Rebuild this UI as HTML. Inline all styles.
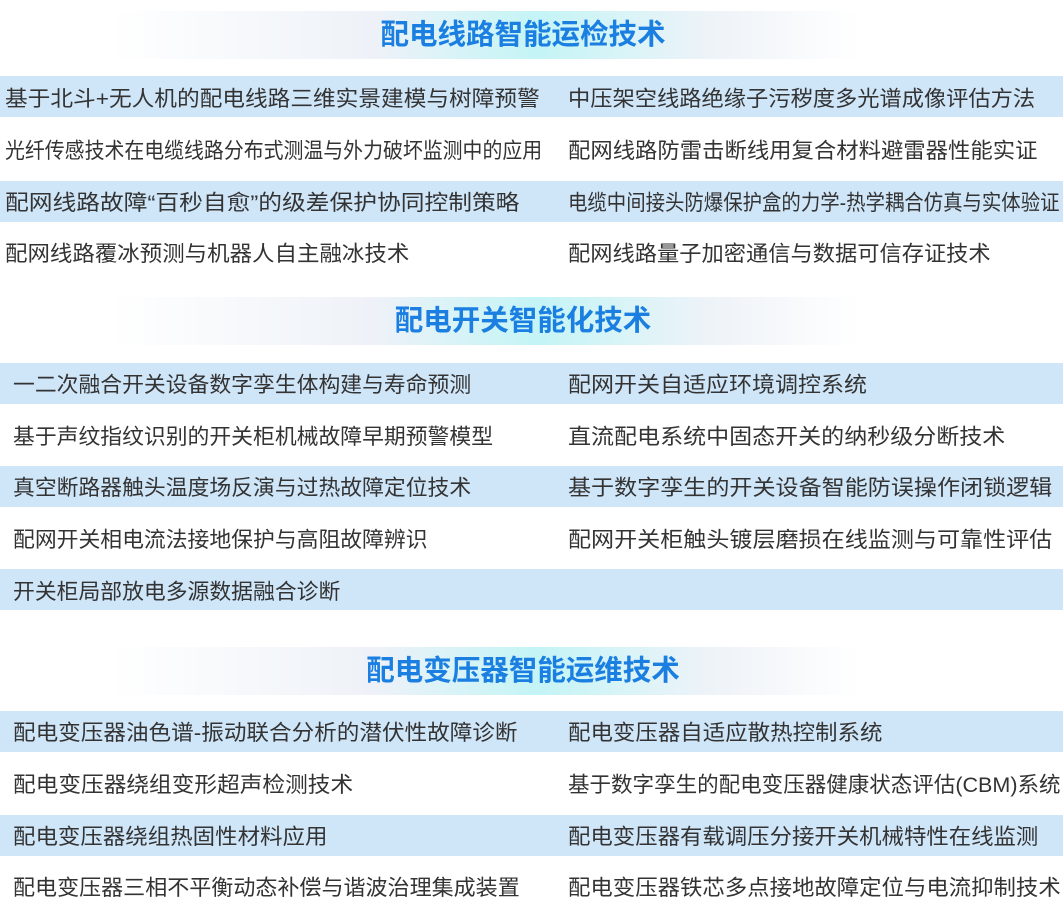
<!DOCTYPE html>
<html><head><meta charset="utf-8"><style>
body{margin:0;width:1063px;height:924px;background:#fff;position:relative;overflow:hidden;font-family:"Liberation Sans","Noto Sans CJK SC",sans-serif;}
.hd{position:absolute;left:110px;width:750px;height:48px;background:linear-gradient(90deg,rgba(255,255,255,0) 0%,#eef2f8 35%,#c4f4f6 57%,#eef3f8 80%,rgba(255,255,255,0) 100%);}
.ht{position:absolute;left:0;width:1046px;text-align:center;font-size:28.5px;font-weight:bold;color:#1a7fe0;line-height:48px;}
.band{position:absolute;left:0;width:1063px;height:41px;background:#cfe5f8;}
.t{position:absolute;font-size:21.4px;color:#333;line-height:30px;white-space:nowrap;transform-origin:0 50%;}
</style></head><body>
<div class="hd" style="top:11px"></div><div class="ht" style="top:11px">配电线路智能运检技术</div>
<div class="band" style="top:76px"></div><div class="band" style="top:181px"></div>
<div class="t" style="left:5px;top:84px;transform:scaleX(1.06)">基于北斗+无人机的配电线路三维实景建模与树障预警</div>
<div class="t" style="left:568px;top:84px;transform:scaleX(1.04)">中压架空线路绝缘子污秽度多光谱成像评估方法</div>
<div class="t" style="left:5px;top:136px;transform:scaleX(0.93)">光纤传感技术在电缆线路分布式测温与外力破坏监测中的应用</div>
<div class="t" style="left:568px;top:136px;transform:scaleX(1.045)">配网线路防雷击断线用复合材料避雷器性能实证</div>
<div class="t" style="left:5px;top:188px;transform:scaleX(1.11)">配网线路故障“百秒自愈”的级差保护协同控制策略</div>
<div class="t" style="left:568px;top:188px;transform:scaleX(0.907)">电缆中间接头防爆保护盒的力学-热学耦合仿真与实体验证</div>
<div class="t" style="left:5px;top:239px;transform:scaleX(1.05)">配网线路覆冰预测与机器人自主融冰技术</div>
<div class="t" style="left:568px;top:239px;transform:scaleX(1.04)">配网线路量子加密通信与数据可信存证技术</div>

<div class="hd" style="top:297px"></div><div class="ht" style="top:297px">配电开关智能化技术</div>
<div class="band" style="top:363px"></div><div class="band" style="top:466px"></div><div class="band" style="top:569px"></div>
<div class="t" style="left:13px;top:370px;transform:scaleX(1.02)">一二次融合开关设备数字孪生体构建与寿命预测</div>
<div class="t" style="left:568px;top:370px;transform:scaleX(1.075)">配网开关自适应环境调控系统</div>
<div class="t" style="left:13px;top:422px;transform:scaleX(1.02)">基于声纹指纹识别的开关柜机械故障早期预警模型</div>
<div class="t" style="left:568px;top:422px;transform:scaleX(1.076)">直流配电系统中固态开关的纳秒级分断技术</div>
<div class="t" style="left:13px;top:473px;transform:scaleX(1.02)">真空断路器触头温度场反演与过热故障定位技术</div>
<div class="t" style="left:568px;top:473px;transform:scaleX(1.078)">基于数字孪生的开关设备智能防误操作闭锁逻辑</div>
<div class="t" style="left:13px;top:525px;transform:scaleX(1.02)">配网开关相电流法接地保护与高阻故障辨识</div>
<div class="t" style="left:568px;top:525px;transform:scaleX(1.078)">配网开关柜触头镀层磨损在线监测与可靠性评估</div>
<div class="t" style="left:13px;top:577px;transform:scaleX(1.02)">开关柜局部放电多源数据融合诊断</div>

<div class="hd" style="top:647px"></div><div class="ht" style="top:647px">配电变压器智能运维技术</div>
<div class="band" style="top:711px"></div><div class="band" style="top:815px"></div>
<div class="t" style="left:13px;top:718px;transform:scaleX(1.056)">配电变压器油色谱-振动联合分析的潜伏性故障诊断</div>
<div class="t" style="left:568px;top:718px;transform:scaleX(1.05)">配电变压器自适应散热控制系统</div>
<div class="t" style="left:13px;top:770px;transform:scaleX(1.06)">配电变压器绕组变形超声检测技术</div>
<div class="t" style="left:568px;top:770px;transform:scaleX(1.006)">基于数字孪生的配电变压器健康状态评估(CBM)系统</div>
<div class="t" style="left:13px;top:822px;transform:scaleX(1.05)">配电变压器绕组热固性材料应用</div>
<div class="t" style="left:568px;top:822px;transform:scaleX(1.047)">配电变压器有载调压分接开关机械特性在线监测</div>
<div class="t" style="left:13px;top:873px;transform:scaleX(1.03)">配电变压器三相不平衡动态补偿与谐波治理集成装置</div>
<div class="t" style="left:568px;top:873px;transform:scaleX(1.047)">配电变压器铁芯多点接地故障定位与电流抑制技术</div>
</body></html>
